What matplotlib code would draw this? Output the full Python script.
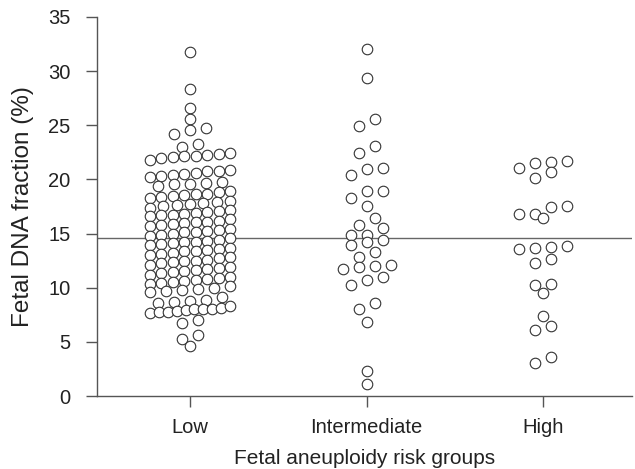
import matplotlib
matplotlib.use('Agg')
import matplotlib.pyplot as plt

# ---- data ----
categories = ['Low', 'Intermediate', 'High']

low = [31.75, 28.35, 26.6, 25.6, 24.75, 24.6, 24.15, 23.3, 23.0,
       22.45, 22.35, 22.3, 22.2, 22.15, 22.05, 21.95, 21.8,
       20.9, 20.8, 20.75, 20.6, 20.5, 20.4, 20.3, 20.2,
       19.75, 19.7, 19.6, 19.55, 19.4,
       18.9, 18.8, 18.7, 18.65, 18.6, 18.5, 18.4, 18.3,
       18.0, 17.9, 17.8, 17.7, 17.6, 17.5, 17.4,
       17.15, 17.05, 16.95, 16.9, 16.85, 16.75, 16.7, 16.6,
       16.3, 16.2, 16.1, 16.05, 16.0, 15.9, 15.8, 15.7,
       15.45, 15.35, 15.25, 15.15, 15.1, 15.0, 14.9, 14.8,
       14.55, 14.45, 14.35, 14.25, 14.2, 14.1, 14.0, 13.9,
       13.7, 13.6, 13.5, 13.4, 13.35, 13.25, 13.15, 13.0,
       12.8, 12.7, 12.6, 12.5, 12.45, 12.35, 12.25, 12.1,
       11.9, 11.8, 11.7, 11.6, 11.55, 11.45, 11.35, 11.2,
       11.0, 10.9, 10.8, 10.7, 10.65, 10.55, 10.45, 10.3,
       10.15, 10.0, 9.9, 9.8, 9.7, 9.6,
       9.1, 8.9, 8.75, 8.7, 8.6,
       8.29, 8.14, 8.05, 8.0, 7.99, 7.92, 7.83, 7.8, 7.73, 7.68,
       7.0, 6.7, 5.66, 5.26, 4.64]

intermediate = [32.0, 29.4, 25.6, 24.9, 23.05, 22.45, 21.05, 21.0, 20.45,
                18.95, 18.95, 18.25, 17.5, 16.4, 15.8, 15.5, 14.85, 14.85,
                14.4, 14.25, 13.95, 13.3, 12.8, 12.1, 12.0, 11.9, 11.7,
                10.95, 10.75, 10.25, 8.6, 8.05, 6.8, 2.35, 1.1]

high = [21.66, 21.61, 21.54, 21.05, 20.68, 20.12,
        17.5, 17.45, 16.8, 16.8, 16.4,
        13.85, 13.8, 13.7, 13.56, 12.65, 12.3,
        10.3, 10.25, 9.5, 7.43, 6.43, 6.13, 3.56, 3.04]

reference_line = 14.55
y_ticks = [0, 5, 10, 15, 20, 25, 30, 35]
y_label = 'Fetal DNA fraction (%)'
x_label = 'Fetal aneuploidy risk groups'

# ---- styling ----
plt.rcParams['font.family'] = ['Liberation Sans', 'DejaVu Sans']
AX_COL = '#555555'
TXT_COL = '#222222'

fig = plt.figure(figsize=(6.35, 4.69), dpi=100)
ax = fig.add_axes([97 / 635, 73 / 469, 535 / 635, 379 / 469])
ax.set_xlim(-0.527, 2.504)
ax.set_ylim(0, 35)

px_per_unit = ax.bbox.width / (2.504 + 0.527)


def row_layout(values, h=0.8, step_px=16.0, max_span_px=80.0):
    """Prism-like scatter: group close values into rows, spread each row."""
    vals = sorted(values, reverse=True)
    rows, cur, start = [], [], None
    for v in vals:
        if start is None or v <= start - h + 1e-9:
            if cur:
                rows.append(cur)
            cur, start = [v], v
        else:
            cur.append(v)
    if cur:
        rows.append(cur)
    offs, ys = [], []
    for r in rows:
        r = sorted(r)
        n = len(r)
        sp = step_px if n == 1 else min(step_px, max_span_px / (n - 1))
        for i, v in enumerate(r):
            offs.append((i - (n - 1) / 2) * sp / px_per_unit)
            ys.append(v)
    return offs, ys


ax.axhline(reference_line, color='#666666', lw=1.0, zorder=1)

for i, grp in enumerate([low, intermediate, high]):
    offs, ys = row_layout(grp)
    ax.scatter([i + o for o in offs], ys, s=7.6 ** 2, facecolor='white',
               edgecolor='#333333', linewidths=0.8, zorder=3, clip_on=False)

ax.set_xticks(range(len(categories)))
ax.set_xticklabels(categories)
ax.set_yticks(y_ticks)
for s in ['top', 'right']:
    ax.spines[s].set_visible(False)
for s in ['left', 'bottom']:
    ax.spines[s].set_color(AX_COL)
    ax.spines[s].set_linewidth(1.0)
ax.tick_params(axis='both', direction='out', length=8, width=1.0,
               color=AX_COL, labelsize=14.5, labelcolor=TXT_COL)
ax.tick_params(axis='y', pad=11)
ax.tick_params(axis='x', pad=8)
ax.set_ylabel(y_label, fontsize=17.5, color=TXT_COL, va='center')
ax.yaxis.set_label_coords((23 - 97) / 535, 0.5)
ax.set_xlabel(x_label, fontsize=15, color=TXT_COL, va='center')
ax.xaxis.set_label_coords(0.5, (396 - 458) / 379)

fig.savefig('out.png', dpi=100)
